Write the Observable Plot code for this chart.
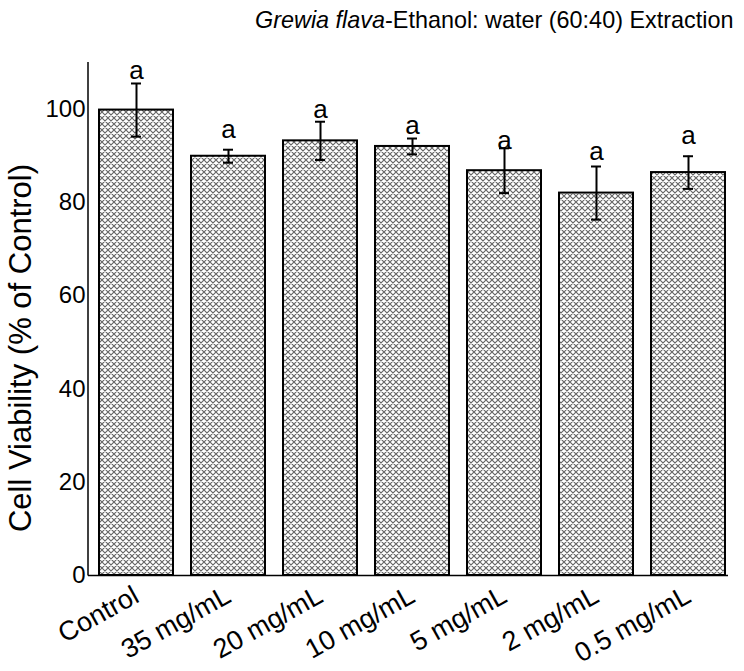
<!DOCTYPE html>
<html>
<head>
<meta charset="utf-8">
<script src="https://cdn.jsdelivr.net/npm/d3@7"></script>
<script src="https://cdn.jsdelivr.net/npm/@observablehq/plot@0.6"></script>
<style>
  html, body { margin: 0; padding: 0; background: #fff; }
  body { width: 744px; height: 671px; overflow: hidden; font-family: "Liberation Sans", Arial, sans-serif; }
  #title { height: 40px; line-height: 40px; font-size: 23.4px; padding-left: 255px; white-space: nowrap; color: #000; }
  #chart svg { display: block; overflow: visible; }
</style>
</head>
<body>
<div id="title"><i>Grewia flava</i>-Ethanol: water (60:40) Extraction</div>
<div id="chart"></div>
<script>
const categories = ["Control", "35 mg/mL", "20 mg/mL", "10 mg/mL", "5 mg/mL", "2 mg/mL", "0.5 mg/mL"];
const means = [99.8, 89.9, 93.2, 92.0, 86.8, 82.0, 86.4];
const errors = [5.7, 1.4, 4.1, 1.7, 4.8, 5.7, 3.5];
const letters = ["a", "a", "a", "a", "a", "a", "a"];
const letterY = [106.5, 93.9, 98.2, 94.7, 91.5, 89.0, 92.6];
const yTicks = [0, 20, 40, 60, 80, 100];
const yLabel = "Cell Viability (% of Control)";

const data = categories.map((c, i) => ({
  cat: c, mean: means[i], lo: means[i] - errors[i], hi: means[i] + errors[i],
  letter: letters[i], ly: letterY[i]
}));

const chart = Plot.plot({
  width: 744,
  height: 631,
  marginLeft: 88,
  marginRight: 16,
  marginTop: 22,
  marginBottom: 96,
  style: { fontFamily: "'Liberation Sans', Arial, sans-serif", color: "#000", background: "#fff" },
  x: { domain: categories, range: [87.7, 736.3], paddingInner: 0.2, paddingOuter: 0.1, label: null },
  y: { domain: [0, 110], label: null },
  marks: [
    Plot.barY(data, { x: "cat", y: "mean", fill: "url(#xhatch)", stroke: "#000", strokeWidth: 2 }),
    Plot.ruleX(data, { x: "cat", y1: "lo", y2: "hi", stroke: "#000", strokeWidth: 2 }),
    Plot.tickY(data, { x: "cat", y: "hi", stroke: "#000", strokeWidth: 2, insetLeft: 32, insetRight: 32 }),
    Plot.tickY(data, { x: "cat", y: "lo", stroke: "#000", strokeWidth: 2, insetLeft: 32, insetRight: 32 }),
    Plot.text(data, { x: "cat", y: "ly", text: "letter", lineAnchor: "bottom", fontSize: 26, fill: "#000" }),
    Plot.ruleY([0], { stroke: "#000", strokeWidth: 1.5 }),
    Plot.axisY({ ticks: yTicks, tickSize: 0, tickPadding: 3, fontSize: 24, label: null }),
    Plot.axisX({ tickSize: 0, tickPadding: 18, tickRotate: -29, fontSize: 27, label: null }),
    Plot.text([yLabel], { frameAnchor: "left", textAnchor: "middle", rotate: -90, dx: -67, dy: 29, fontSize: 31, fill: "#000" })
  ]
});

document.getElementById("chart").appendChild(chart);
const svg = d3.select(chart);
// y axis line
svg.append("line")
  .attr("x1", 88).attr("x2", 88).attr("y1", 22).attr("y2", 535.5)
  .attr("stroke", "#000").attr("stroke-width", 1.5);

const defs = svg.insert("defs", ":first-child");
const pat = defs.append("pattern")
  .attr("id", "xhatch").attr("patternUnits", "userSpaceOnUse")
  .attr("width", 6).attr("height", 6);
pat.append("rect").attr("width", 6).attr("height", 6).attr("fill", "#fff");
pat.append("path").attr("d", "M0,0L6,6M6,0L0,6M-1,1L1,-1M5,7L7,5M-1,5L1,7M5,-1L7,1")
  .attr("stroke", "#666").attr("stroke-width", 1.15).attr("fill", "none");
</script>
</body>
</html>
